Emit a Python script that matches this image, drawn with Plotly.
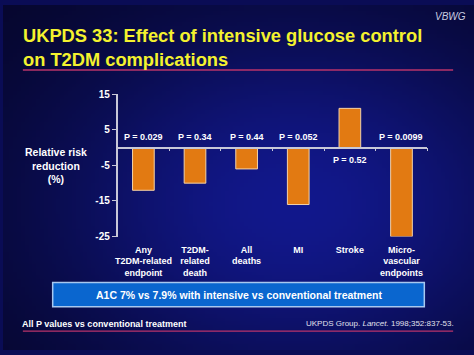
import base64, struct, zlib, math
import plotly.graph_objects as go

categories = ["Any<br>T2DM-related<br>endpoint", "T2DM-<br>related<br>death", "All<br>deaths",
              "MI", "Stroke", "Micro-<br>vascular<br>endpoints"]
rrr_values = [-12, -10, -6, -16, 11, -25]
p_labels = ["P = 0.029", "P = 0.34", "P = 0.44", "P = 0.052", "P = 0.52", "P = 0.0099"]
y_ticks = [15, 5, -5, -15, -25]
y_tick_text = ["15", "5", "-5", "-15", "-25"]

W, H = 474, 355
FONT = "Liberation Sans, Arial, sans-serif"

def px(x):
    return x / W

def py(y):
    return 1 - y / H

# ---- radial gradient background as a small PNG ----
def make_png(w, h):
    edge = (5, 5, 38)
    center = (18, 24, 140)
    rows = []
    for j in range(h):
        row = bytearray()
        for i in range(w):
            dx = (i / (w - 1) - 0.62) / 0.55
            dy = (j / (h - 1) - 0.58) / 0.55
            f = math.exp(-(dx * dx + dy * dy))
            for k in range(3):
                row.append(int(edge[k] + (center[k] - edge[k]) * f))
        rows.append(row)
    raw = b"".join(b"\x00" + bytes(r) for r in rows)
    def chunk(tag, data):
        return struct.pack(">I", len(data)) + tag + data + struct.pack(">I", zlib.crc32(tag + data) & 0xffffffff)
    png = b"\x89PNG\r\n\x1a\n" + chunk(b"IHDR", struct.pack(">IIBBBBB", w, h, 8, 2, 0, 0, 0)) \
        + chunk(b"IDAT", zlib.compress(raw)) + chunk(b"IEND", b"")
    return "data:image/png;base64," + base64.b64encode(png).decode()

bg = make_png(120, 90)

x_idx = list(range(len(categories)))

fig = go.Figure()
fig.add_trace(go.Bar(
    x=x_idx, y=rrr_values, width=0.42,
    marker=dict(color="#e27a12", line=dict(color="#f3d2a8", width=1)),
    showlegend=False, hoverinfo="skip",
))

# P value annotations
for i, (v, p) in enumerate(zip(rrr_values, p_labels)):
    if v < 0:
        fig.add_annotation(x=i, y=0, text="<b>" + p + "</b>", showarrow=False, yanchor="bottom", yshift=4,
                           font=dict(family=FONT, size=9, color="white"))
    else:
        fig.add_annotation(x=i, y=0, text="<b>" + p + "</b>", showarrow=False, yanchor="top", yshift=-5,
                           font=dict(family=FONT, size=9, color="white"))

x0_dom, x1_dom = px(115.3), px(427)
y0_dom, y1_dom = py(238.3), py(91.7)
zero_pos = y0_dom + (0 - (-25)) / 40 * (y1_dom - y0_dom)

fig.update_layout(
    width=W, height=H,
    margin=dict(l=0, r=0, t=0, b=0),
    paper_bgcolor="#0a0c55",
    plot_bgcolor="rgba(0,0,0,0)",
    font=dict(family=FONT, color="white"),
    xaxis=dict(domain=[x0_dom, x1_dom], range=[-0.5, 5.5], tickvals=x_idx,
               ticktext=["<b>" + c + "</b>" for c in categories],
               showgrid=False, zeroline=False, showline=False, ticks="",
               tickfont=dict(family=FONT, size=9, color="white"), ticklabelstandoff=6,
               fixedrange=True),
    xaxis2=dict(overlaying="x", anchor="free", position=zero_pos, range=[-0.5, 5.5],
                tickvals=[i + 0.5 for i in x_idx], showticklabels=False, ticks="outside",
                ticklen=3, tickcolor="#c8c8d8", showline=True, linecolor="#c8c8d8", linewidth=1.5,
                showgrid=False, zeroline=False),
    yaxis=dict(domain=[y0_dom, y1_dom], range=[-25, 15], tickvals=y_ticks,
               ticktext=["<b>" + t + "</b>" for t in y_tick_text],
               showgrid=False, zeroline=False, showline=True, linecolor="#c8c8d8", linewidth=1.5,
               ticks="outside", ticklen=4, tickcolor="#c8c8d8",
               tickfont=dict(family=FONT, size=10, color="white")),
    images=[dict(source=bg, xref="paper", yref="paper", x=0, y=1, sizex=1, sizey=1,
                 sizing="stretch", layer="below", xanchor="left", yanchor="top")],
)

# dummy trace to activate xaxis2
fig.add_trace(go.Scatter(x=[None], y=[None], xaxis="x2", showlegend=False, hoverinfo="skip"))

# Title
fig.add_annotation(xref="paper", yref="paper", x=px(18), y=py(44), xanchor="left", yanchor="middle",
                   text="<b>UKPDS 33: Effect of intensive glucose control<br>on T2DM complications</b>",
                   showarrow=False, align="left",
                   font=dict(family=FONT, size=18.3, color="#f4f22e"))
fig.add_annotation(xref="paper", yref="paper", x=px(468), y=py(12), xanchor="right", yanchor="middle",
                   text="<i>VBWG</i>", showarrow=False,
                   font=dict(family=FONT, size=10, color="#c8cce0"))

# Y-axis title
fig.add_annotation(xref="paper", yref="paper", x=px(53), y=py(165.5), xanchor="center", yanchor="middle",
                   text="<b>Relative risk<br>reduction<br>(%)</b>", showarrow=False, align="center",
                   font=dict(family=FONT, size=10.5, color="white"))

# Lines
fig.add_shape(type="line", xref="paper", yref="paper", x0=px(20), x1=px(453), y0=py(67), y1=py(67),
              line=dict(color="#b8336a", width=1.5))
fig.add_shape(type="line", xref="paper", yref="paper", x0=px(20), x1=px(453), y0=py(335.5), y1=py(335.5),
              line=dict(color="#b8336a", width=1.2))

# Box
fig.add_shape(type="rect", xref="paper", yref="paper", x0=px(50), x1=px(424), y0=py(310.5), y1=py(285.5),
              fillcolor="#0a66cf", line=dict(color="#a8c8f0", width=1.5), layer="above")
fig.add_annotation(xref="paper", yref="paper", x=px(237), y=py(298), xanchor="center", yanchor="middle",
                   text="<b>A1C 7% vs 7.9% with intensive vs conventional treatment</b>", showarrow=False,
                   font=dict(family=FONT, size=10.5, color="white"))

# Footer
fig.add_annotation(xref="paper", yref="paper", x=px(17), y=py(328), xanchor="left", yanchor="middle",
                   text="<b>All P values vs conventional treatment</b>", showarrow=False,
                   font=dict(family=FONT, size=9, color="white"))
fig.add_annotation(xref="paper", yref="paper", x=px(456), y=py(328), xanchor="right", yanchor="middle",
                   text="UKPDS Group. <i>Lancet.</i> 1998;352:837-53.", showarrow=False,
                   font=dict(family=FONT, size=8, color="#e0e0ec"))

fig.write_html("out.html", config={"displayModeBar": False},
               post_script="document.body.style.margin='0';document.body.style.overflow='hidden';")
